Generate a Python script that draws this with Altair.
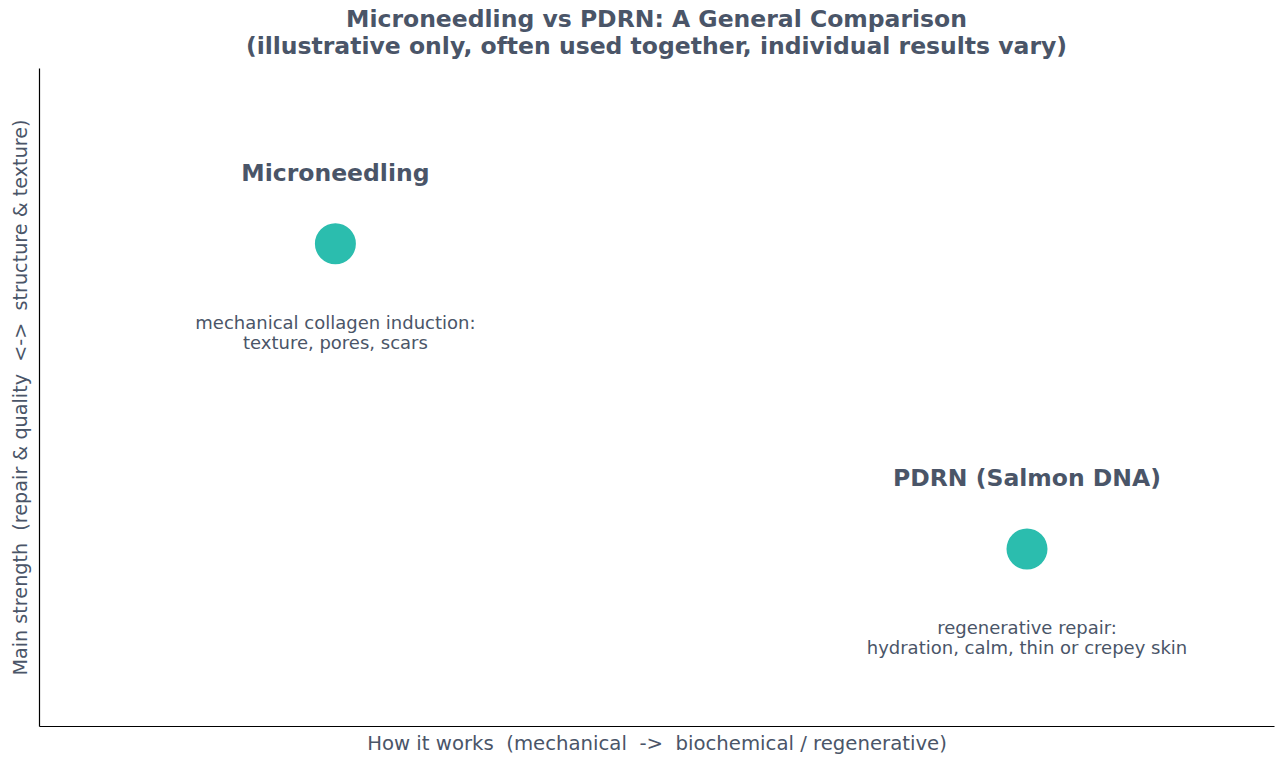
import altair as alt
import pandas as pd

NB = "\u00a0"

names = ["Microneedling", "PDRN (Salmon DNA)"]
x_vals = [0.24, 0.80]
y_vals = [0.733, 0.269]
desc_line1 = ["mechanical collagen induction:", "regenerative repair:"]
desc_line2 = ["texture, pores, scars", "hydration, calm, thin or crepey skin"]
x_title = "How it works  (mechanical  ->  biochemical / regenerative)"
y_title = "Main strength  (repair & quality  <->  structure & texture)"

df = pd.DataFrame({
    "name": names,
    "x": x_vals,
    "y": y_vals,
    "desc": [[a, b] for a, b in zip(desc_line1, desc_line2)],
})

TXT = "#4a5568"
FONT = "DejaVu Sans"

xs = alt.Scale(domain=[0, 1], nice=False)
ys = alt.Scale(domain=[0, 1], nice=False)

base = alt.Chart(df).encode(
    x=alt.X("x:Q", scale=xs,
            axis=alt.Axis(title=x_title.replace("  ", NB + NB),
                          labels=False, ticks=False, grid=False, domainColor="#000000",
                          domainWidth=1.2, titleFontSize=19.7, titleFontWeight="normal",
                          titleColor=TXT, titleFont=FONT, titlePadding=7)),
    y=alt.Y("y:Q", scale=ys,
            axis=alt.Axis(title=y_title.replace("  ", NB + NB),
                          labels=False, ticks=False, grid=False, domainColor="#000000",
                          domainWidth=1.2, titleFontSize=19.2, titleFontWeight="normal",
                          titleColor=TXT, titleFont=FONT, titlePadding=9)),
)

points = base.mark_circle(size=1680, color="#2bbdae", opacity=1)
labels = base.mark_text(dy=-70, fontSize=23.5, fontWeight="bold", color=TXT, font=FONT,
                        baseline="middle").encode(text="name:N")
descs = base.mark_text(dy=80, fontSize=18, color=TXT, font=FONT, baseline="middle",
                       lineHeight=20).encode(text="desc")

chart = alt.layer(points, labels, descs).properties(
    width=1235, height=658,
    background="white",
    title=alt.TitleParams(
        text=["Microneedling vs PDRN: A General Comparison",
              "(illustrative only, often used together, individual results vary)"],
        fontSize=23.5, fontWeight="bold", color=TXT, font=FONT, lineHeight=27,
        anchor="middle", offset=10),
    autosize=alt.AutoSizeParams(type="none"),
    padding={"left": 39, "top": 68, "right": 12, "bottom": 39},
).configure_view(stroke="transparent", strokeWidth=0)

chart.save("out.html", embed_options={"renderer": "svg", "actions": False})
